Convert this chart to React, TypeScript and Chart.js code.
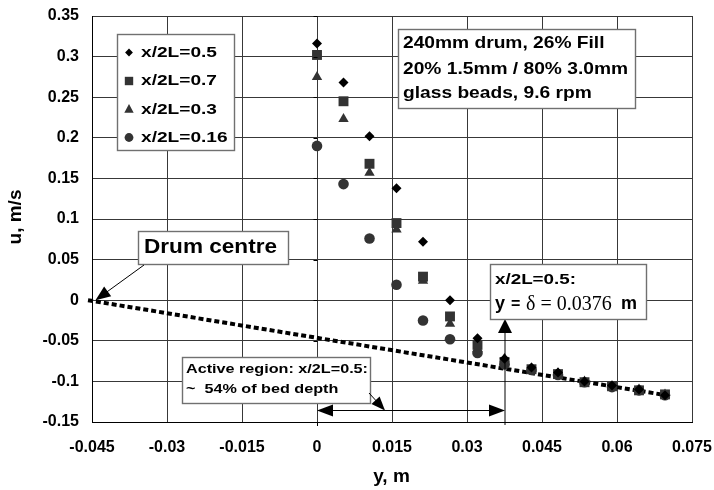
import React, { useEffect, useRef } from 'react';
import { Chart, registerables } from 'chart.js';

Chart.register(...registerables);

// Distance from the free surface, y (m)
const Y_POS = [0, 0.0053, 0.0105, 0.0159, 0.0212, 0.0266, 0.0321, 0.0375, 0.0429, 0.0482, 0.0535, 0.059, 0.0644, 0.0696];

// Streamwise velocity u (m/s) at each axial station
const U_05 = [0.316, 0.268, 0.202, 0.138, 0.072, 0.0, -0.047, -0.072, -0.083, -0.089, -0.1, -0.105, -0.11, -0.117];
const U_07 = [0.302, 0.245, 0.168, 0.095, 0.029, -0.02, -0.055, -0.076, -0.085, -0.091, -0.101, -0.106, -0.111, -0.116];
const U_03 = [0.275, 0.223, 0.157, 0.087, 0.024, -0.029, -0.06, -0.072, -0.084, -0.09, -0.1, -0.106, -0.11, -0.116];
const U_016 = [0.19, 0.143, 0.076, 0.019, -0.025, -0.048, -0.065, -0.079, -0.086, -0.092, -0.101, -0.107, -0.111, -0.117];

// Solid-body rotation line through the drum centre
const RIGID_Y = [-0.0458, 0.0698];
const RIGID_U = [0, -0.117];

const X_TICKS = [-0.045, -0.03, -0.015, 0, 0.015, 0.03, 0.045, 0.06, 0.075];
const Y_TICKS = [-0.15, -0.1, -0.05, 0, 0.05, 0.1, 0.15, 0.2, 0.25, 0.3, 0.35];

const SERIES_LABELS = ['x/2L=0.5', 'x/2L=0.7', 'x/2L=0.3', 'x/2L=0.16'];
const SERIES_STYLES = ['rectRot', 'rect', 'triangle', 'circle'];
const SERIES_COLORS = ['#000000', '#333333', '#333333', '#333333'];
const SERIES_RADII = [5, 7, 6, 5.3];

const DELTA = 0.0376;
const INFO_LINES = ['240mm drum, 26% Fill', '20% 1.5mm / 80% 3.0mm', 'glass beads, 9.6 rpm'];
const ACTIVE_LINES = ['Active region: x/2L=0.5:', '~  54% of bed depth'];
const DRUM_LABEL = 'Drum centre';

const SANS = "'Liberation Sans', Arial, sans-serif";
const SERIF = "'Liberation Serif', 'Times New Roman', serif";

const fmt = (v: number) => String(parseFloat(Number(v).toFixed(3)));

function textLines(ctx: CanvasRenderingContext2D, lines: string[], x: number, ys: number[], font: string, refIndex: number, refWidth: number) {
  ctx.save();
  ctx.font = font;
  ctx.fillStyle = '#000';
  ctx.textBaseline = 'middle';
  ctx.textAlign = 'left';
  const sx = refWidth / ctx.measureText(lines[refIndex]).width;
  lines.forEach((t, i) => {
    ctx.save();
    ctx.translate(x, ys[i]);
    ctx.scale(sx, 1);
    ctx.fillText(t, 0, 0);
    ctx.restore();
  });
  ctx.restore();
}

function box(ctx: CanvasRenderingContext2D, x1: number, y1: number, x2: number, y2: number) {
  ctx.save();
  ctx.fillStyle = '#fff';
  ctx.fillRect(x1, y1, x2 - x1, y2 - y1);
  ctx.strokeStyle = '#707070';
  ctx.lineWidth = 1.4;
  ctx.strokeRect(x1 + 0.5, y1 + 0.5, x2 - x1, y2 - y1);
  ctx.restore();
}

function arrow(ctx: CanvasRenderingContext2D, x1: number, y1: number, x2: number, y2: number, len: number, half: number) {
  const a = Math.atan2(y2 - y1, x2 - x1);
  const c = Math.cos(a);
  const s = Math.sin(a);
  ctx.beginPath();
  ctx.moveTo(x1, y1);
  ctx.lineTo(x2 - c * len * 0.8, y2 - s * len * 0.8);
  ctx.stroke();
  ctx.beginPath();
  ctx.moveTo(x2, y2);
  ctx.lineTo(x2 - c * len + s * half, y2 - s * len - c * half);
  ctx.lineTo(x2 - c * len - s * half, y2 - s * len + c * half);
  ctx.closePath();
  ctx.fill();
}

function marker(ctx: CanvasRenderingContext2D, style: string, x: number, y: number, r: number) {
  ctx.beginPath();
  if (style === 'rectRot') {
    ctx.moveTo(x - r, y);
    ctx.lineTo(x, y - r);
    ctx.lineTo(x + r, y);
    ctx.lineTo(x, y + r);
  } else if (style === 'rect') {
    ctx.rect(x - r, y - r, 2 * r, 2 * r);
  } else if (style === 'triangle') {
    const h = r * Math.sqrt(3) / 2;
    ctx.moveTo(x, y - r);
    ctx.lineTo(x + h, y + r * 0.6);
    ctx.lineTo(x - h, y + r * 0.6);
  } else {
    ctx.arc(x, y, r, 0, Math.PI * 2);
  }
  ctx.closePath();
  ctx.fill();
}

const annotations = {
  id: 'annotations',
  afterDraw(chart: any) {
    const ctx: CanvasRenderingContext2D = chart.ctx;
    const xs = chart.scales.x;
    const ys = chart.scales.y;
    const area = chart.chartArea;
    const px = (v: number) => xs.getPixelForValue(v);
    const py = (v: number) => ys.getPixelForValue(v);

    ctx.save();
    ctx.strokeStyle = '#000';
    ctx.fillStyle = '#000';
    ctx.lineWidth = 1;

    // small tick marks on the u-axis at y = 0
    const x0 = Math.round(px(0)) + 0.5;
    ctx.beginPath();
    Y_TICKS.forEach((t) => {
      const yy = Math.round(py(t)) + 0.5;
      ctx.moveTo(x0 - 4, yy);
      ctx.lineTo(x0, yy);
    });
    ctx.moveTo(x0, area.bottom);
    ctx.lineTo(x0, area.bottom + 4);
    ctx.stroke();

    // legend
    box(ctx, 117, 34, 234, 150);
    const legendYs = [52.5, 81, 109.5, 137.5];
    const legendR = [3.9, 4.2, 5.4, 4.4];
    SERIES_LABELS.forEach((_, i) => {
      ctx.fillStyle = SERIES_COLORS[i];
      marker(ctx, SERIES_STYLES[i], 129, legendYs[i], legendR[i]);
    });
    textLines(ctx, SERIES_LABELS, 141, legendYs, `bold 15px ${SANS}`, 0, 76);

    // experiment description
    box(ctx, 398, 29, 635, 108);
    textLines(ctx, INFO_LINES, 403, [43.5, 69, 93], `bold 17px ${SANS}`, 1, 225);

    // drum centre label and pointer
    box(ctx, 138, 231, 288, 264);
    textLines(ctx, [DRUM_LABEL], 144, [247.5], `bold 20px ${SANS}`, 0, 133);
    ctx.fillStyle = '#000';
    arrow(ctx, 144, 265, px(-0.0443), py(0), 15, 6);

    // depth delta marker
    const xd = px(DELTA);
    arrow(ctx, xd, area.bottom + 3, xd, 319, 14, 7);
    box(ctx, 490, 264, 646, 319);
    textLines(ctx, ['x/2L=0.5:'], 495, [279.5], `bold 15px ${SANS}`, 0, 81);
    ctx.save();
    ctx.fillStyle = '#000';
    ctx.textBaseline = 'middle';
    ctx.font = `bold 18px ${SANS}`;
    ctx.fillText('y', 495, 304.5);
    ctx.font = `bold 16px ${SANS}`;
    ctx.fillText('=', 511, 304.5);
    ctx.font = `20px ${SERIF}`;
    ctx.fillText('\u03b4 = 0.0376', 526, 305);
    ctx.font = `bold 18px ${SANS}`;
    ctx.fillText('m', 621, 304.5);
    ctx.restore();

    // active region
    box(ctx, 182, 357, 370, 403);
    textLines(ctx, ACTIVE_LINES, 186, [369.5, 389.5], `bold 13px ${SANS}`, 0, 182);
    ctx.fillStyle = '#000';
    const ya = 410.5;
    arrow(ctx, 369, 393, 385, ya, 14, 5.5);
    arrow(ctx, (px(0) + xd) / 2, ya, px(0), ya, 16, 6);
    arrow(ctx, (px(0) + xd) / 2, ya, xd, ya, 16, 6);

    // axis titles
    ctx.fillStyle = '#000';
    ctx.font = `bold 19px ${SANS}`;
    ctx.textAlign = 'center';
    ctx.textBaseline = 'middle';
    ctx.fillText('y, m', 391.5, 476.5);
    ctx.save();
    ctx.translate(16, 217);
    ctx.rotate(-Math.PI / 2);
    ctx.fillText('u, m/s', 0, 0);
    ctx.restore();

    ctx.restore();
  },
};

export default function App() {
  const canvasRef = useRef<HTMLCanvasElement | null>(null);

  useEffect(() => {
    const canvas = canvasRef.current;
    if (!canvas) return;

    const series = [U_05, U_07, U_03, U_016].map((vals, i) => ({
      type: 'scatter' as const,
      label: SERIES_LABELS[i],
      data: Y_POS.map((y, j) => ({ x: y, y: vals[j] })),
      pointStyle: SERIES_STYLES[i],
      pointRadius: SERIES_RADII[i],
      pointBackgroundColor: SERIES_COLORS[i],
      pointBorderColor: SERIES_COLORS[i],
      pointBorderWidth: 0,
      showLine: false,
      order: i,
    }));

    const rigid = {
      type: 'line' as const,
      label: 'rigid',
      data: RIGID_Y.map((y, j) => ({ x: y, y: RIGID_U[j] })),
      borderColor: '#000',
      borderWidth: 4,
      borderDash: [5, 3],
      borderCapStyle: 'butt' as const,
      pointRadius: 0,
      fill: false,
      tension: 0,
      clip: false as any,
      order: 10,
    };

    const tickFont = { family: SANS, size: 16, weight: 'bold' as const };

    const chart = new Chart(canvas, {
      type: 'scatter',
      data: { datasets: [...series, rigid] as any },
      options: {
        responsive: false,
        animation: false,
        events: [],
        layout: { autoPadding: false, padding: { top: 16, right: 22, bottom: 0, left: 0 } },
        plugins: { legend: { display: false }, tooltip: { enabled: false }, title: { display: false } },
        scales: {
          x: {
            type: 'linear',
            min: -0.045,
            max: 0.075,
            afterBuildTicks: (s: any) => {
              s.ticks = X_TICKS.map((v) => ({ value: v }));
            },
            afterFit: (s: any) => {
              s.height = 68;
              s.paddingLeft = 0;
              s.paddingRight = 0;
            },
            ticks: {
              callback: (v: any) => fmt(v),
              font: tickFont,
              color: '#000',
              padding: 16,
              maxRotation: 0,
              autoSkip: false,
            },
            grid: { color: '#383838', lineWidth: 1, drawTicks: false },
            border: { color: '#000', width: 1 },
          },
          y: {
            type: 'linear',
            min: -0.15,
            max: 0.35,
            afterBuildTicks: (s: any) => {
              s.ticks = Y_TICKS.map((v) => ({ value: v }));
            },
            afterFit: (s: any) => {
              s.width = 92;
              s.paddingTop = 0;
              s.paddingBottom = 0;
            },
            ticks: {
              callback: (v: any) => fmt(v),
              font: tickFont,
              color: '#000',
              padding: 13,
              autoSkip: false,
            },
            grid: { color: '#383838', lineWidth: 1, drawTicks: false },
            border: { color: '#000', width: 1 },
          },
        },
      },
      plugins: [annotations],
    });

    return () => chart.destroy();
  }, []);

  return (
    <div style={{ position: 'fixed', left: 0, top: 0, width: 714, height: 490, background: '#fff' }}>
      <canvas ref={canvasRef} width={714} height={490} />
    </div>
  );
}
